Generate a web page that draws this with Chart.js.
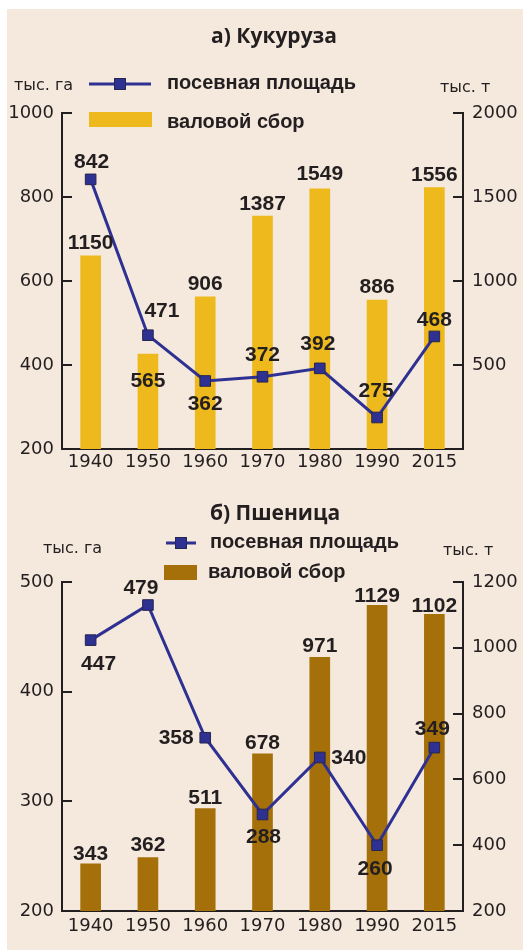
<!DOCTYPE html>
<html>
<head>
<meta charset="utf-8">
<script src="https://cdn.jsdelivr.net/npm/chart.js@4"></script>
<style>
  html, body { margin: 0; padding: 0; background: #fff; }
  #page { position: relative; width: 523px; height: 951px; overflow: hidden; }
  #panel { position: absolute; left: 7px; top: 9px; right: 0; bottom: 1px; background: #f5e8dc; }
  canvas { position: absolute; left: 0; }
  #corn { top: 0; }
  #wheat { top: 490px; }
</style>
</head>
<body>
<div id="page">
  <div id="panel"></div>
  <canvas id="corn" width="523" height="490"></canvas>
  <canvas id="wheat" width="523" height="461"></canvas>
</div>
<script>
// years on the x axis (same for both panels)
const years = ['1940', '1950', '1960', '1970', '1980', '1990', '2015'];

// а) кукуруза: площадь, тыс. га / валовой сбор, тыс. т
const cornArea = [842, 471, 362, 372, 392, 275, 468];
const cornHarvest = [1150, 565, 906, 1387, 1549, 886, 1556];
const cornAreaTicks = [200, 400, 600, 800, 1000];
const cornHarvestTicks = [500, 1000, 1500, 2000];

// б) пшеница
const wheatArea = [447, 479, 358, 288, 340, 260, 349];
const wheatHarvest = [343, 362, 511, 678, 971, 1129, 1102];
const wheatAreaTicks = [200, 300, 400, 500];
const wheatHarvestTicks = [200, 400, 600, 800, 1000, 1200];

// where each value label sits relative to its point / bar top
const cornAreaShift = [[1, -19], [14, -26], [0, 22], [0, -23], [-2, -26], [-1, -28], [0, -18]];
const cornHarvestShift = [-14, 25, -14, -13, -16, -15, -14];
const wheatAreaShift = [[8, 22], [-7, -19], [-29, -1], [1, 21], [29, -1], [-2, 22], [-2, -20]];
const wheatHarvestShift = [-11, -14, -12, -12, -13, -11, -10];

const INK = '#231f20';
const NAVY = '#2e3192';
const TICK_FONT = { family: 'DejaVu Sans', size: 18 };
const LABEL_FONT = 'bold 21px "Liberation Sans", Arial, sans-serif';
const LEGEND_FONT = 'bold 20px "Liberation Sans", Arial, sans-serif';
const TITLE_FONT = 'bold 21px "Open Sans", sans-serif';
const UNIT_FONT = '16px "DejaVu Sans", sans-serif';

// title, legend, units, inward axis ticks and value labels
const decor = {
  id: 'decor',
  afterDatasetsDraw(chart, args, o) {
    const ctx = chart.ctx;
    const area = chart.chartArea;
    ctx.save();

    // inward tick marks
    ctx.strokeStyle = INK;
    ctx.lineWidth = 2;
    const yl = chart.scales.yArea, yr = chart.scales.yHarvest;
    yl.ticks.forEach(t => {
      const y = Math.round(yl.getPixelForValue(t.value));
      ctx.beginPath(); ctx.moveTo(area.left, y); ctx.lineTo(area.left + 10, y); ctx.stroke();
    });
    yr.ticks.forEach(t => {
      const y = Math.round(yr.getPixelForValue(t.value));
      ctx.beginPath(); ctx.moveTo(area.right - 10, y); ctx.lineTo(area.right, y); ctx.stroke();
    });

    ctx.fillStyle = INK;
    ctx.textBaseline = 'alphabetic';

    // title
    ctx.font = TITLE_FONT;
    ctx.textAlign = 'center';
    ctx.fillText(o.title, o.titleX, o.titleY);

    // units
    ctx.font = UNIT_FONT;
    ctx.textAlign = 'left';
    ctx.fillText('тыс. га', o.unitL[0], o.unitL[1]);
    ctx.fillText('тыс. т', o.unitR[0], o.unitR[1]);

    // legend
    const lg = o.legend;
    ctx.strokeStyle = NAVY;
    ctx.lineWidth = 3;
    ctx.beginPath(); ctx.moveTo(lg.lineX0, lg.lineY); ctx.lineTo(lg.lineX1, lg.lineY); ctx.stroke();
    const mx = (lg.lineX0 + lg.lineX1) / 2;
    ctx.fillStyle = NAVY;
    ctx.fillRect(mx - 5.5, lg.lineY - 5.5, 11, 11);
    ctx.strokeStyle = '#26264f';
    ctx.lineWidth = 1;
    ctx.strokeRect(mx - 5.5, lg.lineY - 5.5, 11, 11);
    ctx.fillStyle = o.barColor;
    ctx.fillRect(lg.box[0], lg.box[1], lg.box[2], lg.box[3]);
    ctx.fillStyle = INK;
    ctx.font = LEGEND_FONT;
    ctx.fillText(chart.data.datasets[0].label, lg.text1[0], lg.text1[1]);
    ctx.fillText(chart.data.datasets[1].label, lg.text2[0], lg.text2[1]);

    // value labels
    ctx.font = LABEL_FONT;
    ctx.textAlign = 'center';
    const cap = 7.5;
    const line = chart.getDatasetMeta(0).data;
    const bars = chart.getDatasetMeta(1).data;
    bars.forEach((b, i) => {
      ctx.fillText(String(chart.data.datasets[1].data[i]), b.x, b.y + o.barShift[i] + cap);
    });
    line.forEach((p, i) => {
      const s = o.lineShift[i];
      ctx.fillText(String(chart.data.datasets[0].data[i]), p.x + s[0], p.y + s[1] + cap);
    });
    ctx.restore();
  }
};

function axisY(position, min, max, tickValues, width, pad) {
  return {
    position: position,
    min: min,
    max: max,
    grid: { display: false, drawTicks: false },
    border: { display: true, color: INK, width: 2 },
    ticks: { color: INK, font: TICK_FONT, padding: pad, callback: v => String(v) },
    afterBuildTicks: s => { s.ticks = tickValues.map(v => ({ value: v })); },
    afterFit: s => { s.width = width; }
  };
}

function buildChart(id, o) {
  return new Chart(document.getElementById(id), {
    type: 'bar',
    data: {
      labels: years,
      datasets: [
        {
          type: 'line',
          label: 'посевная площадь',
          data: o.area,
          yAxisID: 'yArea',
          borderColor: NAVY,
          borderWidth: 3,
          tension: 0,
          pointStyle: 'rect',
          pointRadius: 7.5,
          pointBackgroundColor: NAVY,
          pointBorderColor: '#26264f',
          pointBorderWidth: 1
        },
        {
          type: 'bar',
          label: 'валовой сбор',
          data: o.harvest,
          yAxisID: 'yHarvest',
          backgroundColor: o.barColor,
          barThickness: 20
        }
      ]
    },
    options: {
      responsive: false,
      animation: false,
      devicePixelRatio: 1,
      layout: { padding: { top: o.top, left: 0, right: 0, bottom: 0 } },
      plugins: {
        legend: { display: false },
        tooltip: { enabled: false },
        decor: o
      },
      scales: {
        x: {
          offset: true,
          grid: { display: false, drawTicks: false },
          border: { display: true, color: INK, width: 2 },
          ticks: { color: INK, font: TICK_FONT, padding: o.xPad, maxRotation: 0, autoSkip: false },
          afterFit: s => { s.height = o.xHeight; }
        },
        yArea: axisY('left', o.areaMin, o.areaMax, o.areaTicks, 62, 8),
        yHarvest: axisY('right', o.harvestMin, o.harvestMax, o.harvestTicks, 60, 9)
      }
    },
    plugins: [decor]
  });
}

buildChart('corn', {
  title: 'а) Кукуруза', titleX: 274, titleY: 43,
  unitL: [14, 90], unitR: [440, 92],
  legend: { lineX0: 89, lineX1: 151, lineY: 84, box: [89, 112, 63, 15], text1: [167, 89], text2: [167, 128] },
  barColor: '#edb91d',
  area: cornArea, harvest: cornHarvest,
  areaMin: 200, areaMax: 1000, areaTicks: cornAreaTicks,
  harvestMin: 0, harvestMax: 2000, harvestTicks: cornHarvestTicks,
  lineShift: cornAreaShift, barShift: cornHarvestShift,
  top: 113, xHeight: 41, xPad: 3
});

buildChart('wheat', {
  title: 'б) Пшеница', titleX: 275, titleY: 30,
  unitL: [43, 63], unitR: [443, 65],
  legend: { lineX0: 166, lineX1: 196, lineY: 53, box: [164, 75, 33, 15], text1: [210, 58], text2: [208, 88] },
  barColor: '#a5700a',
  area: wheatArea, harvest: wheatHarvest,
  areaMin: 200, areaMax: 500, areaTicks: wheatAreaTicks,
  harvestMin: 200, harvestMax: 1200, harvestTicks: wheatHarvestTicks,
  lineShift: wheatAreaShift, barShift: wheatHarvestShift,
  top: 92, xHeight: 40, xPad: 5
});
</script>
</body>
</html>
